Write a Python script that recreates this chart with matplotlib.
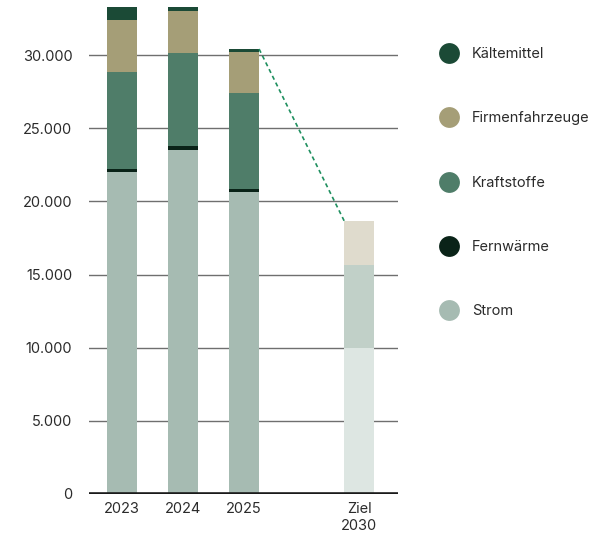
import numpy as np
import matplotlib
matplotlib.use("Agg")
import matplotlib.pyplot as plt
from matplotlib.lines import Line2D

plt.rcParams['font.family'] = ['Inter', 'DejaVu Sans']

years = ['2023', '2024', '2025']
strom = [22000, 23500, 20650]
fernwaerme = [200, 270, 200]
kraftstoffe = [6630, 6360, 6560]
firmenfahrzeuge = [3550, 2870, 2800]
kaeltemittel = [890, 270, 200]

ziel_label = 'Ziel\n2030'
ziel_parts = [10000, 5650, 3000]

colors = {
    'Kältemittel': '#1b4a36',
    'Firmenfahrzeuge': '#a59e77',
    'Kraftstoffe': '#4f7d69',
    'Fernwärme': '#0a2318',
    'Strom': '#a6bbb2',
}
ziel_colors = ['#dde6e2', '#c1d0c8', '#dfdbcd']

fig = plt.figure(figsize=(5.99, 5.40), dpi=100)
ax = fig.add_axes([0.1486, 0.0852, 0.5159, 0.9148])

x = np.arange(len(years))
x_ziel = 3.885
w = 0.49

series = [('Strom', strom), ('Fernwärme', fernwaerme), ('Kraftstoffe', kraftstoffe),
          ('Firmenfahrzeuge', firmenfahrzeuge), ('Kältemittel', kaeltemittel)]
bottom = np.zeros(len(years))
for name, vals in series:
    ax.bar(x, vals, w, bottom=bottom, color=colors[name], zorder=2)
    bottom += np.array(vals)

zb = 0
for v, c in zip(ziel_parts, ziel_colors):
    ax.bar(x_ziel, v, w, bottom=zb, color=c, zorder=2)
    zb += v

# dashed connector from 2025 total to the 2030 target
ax.plot([x[-1] + w / 2, x_ziel - w / 2], [bottom[-1], zb],
        color='#1f8f5f', linestyle=(0, (2.5, 2)), linewidth=1.2, zorder=3)

ax.set_xlim(-0.54, 4.52)
ax.set_ylim(0, 33760)
ax.set_yticks(np.arange(0, 30001, 5000))
ax.set_yticklabels([f'{v:,}'.replace(',', '.') for v in range(0, 30001, 5000)])
ax.set_xticks(list(x) + [x_ziel])
ax.set_xticklabels(years + [ziel_label])
ax.tick_params(length=0, labelsize=10.5, colors='#2b2b2b')
ax.tick_params(axis='y', pad=12)
ax.tick_params(axis='x', pad=6)
ax.grid(axis='y', color='#6f6f6f', linewidth=1, zorder=0)
ax.set_axisbelow(True)
for s in ax.spines.values():
    s.set_visible(False)
ax.axhline(0, color='#1a1a1a', linewidth=2.6, zorder=4)

names = ['Kältemittel', 'Firmenfahrzeuge', 'Kraftstoffe', 'Fernwärme', 'Strom']
handles = [Line2D([], [], marker='o', linestyle='none', markersize=15,
                  markerfacecolor=colors[n], markeredgecolor='none')
           for n in names]
fig.legend(handles, names,
           loc='upper left', bbox_to_anchor=(0.713, 0.937), frameon=False,
           fontsize=10.5, labelspacing=3.45, handletextpad=0.98, handlelength=1.2,
           labelcolor='#2b2b2b')

fig.savefig('out.png', dpi=100)
